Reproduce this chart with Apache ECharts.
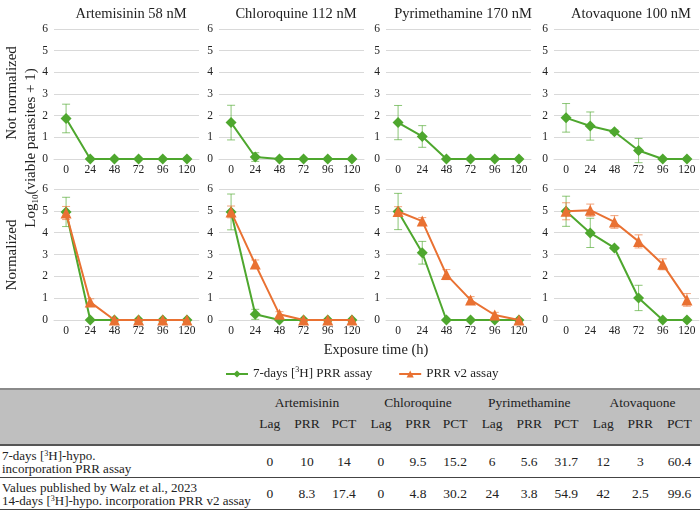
<!DOCTYPE html>
<html>
<head>
<meta charset="utf-8">
<script src="https://cdn.jsdelivr.net/npm/echarts@6/dist/echarts.min.js"></script>
<style>
  body { margin: 0; background: #fff; }
  #chart { position: absolute; left: 0; top: 0; width: 700px; height: 386px; }
  #tbl { position: absolute; left: 0; top: 388px; width: 700px; border-collapse: collapse; table-layout: fixed;
         font-family: 'Liberation Serif', serif; font-size: 13.5px; color: #222; }
  #tbl thead th { background: #bfbfbf; font-weight: normal; padding: 0; text-align: center; }
  #tbl thead tr.r1 th { border-top: 2px solid #8a8a8a; height: 26px; line-height: 16px; vertical-align: middle; }
  #tbl thead tr.r2 th { height: 28px; line-height: 16px; vertical-align: top; border-bottom: 2px solid #555; }
  #tbl tbody td { text-align: center; padding: 0; border-bottom: 1px solid #444; }
  #tbl tbody td.lab { text-align: left; padding-left: 2px; font-size: 13px; line-height: 13px; }
  #tbl tbody tr.b1 td { height: 31px; }
  #tbl tbody tr.b2 td { height: 31px; }
  sup { font-size: 8px; vertical-align: 4px; line-height: 0; }
</style>
</head>
<body>
<div id="chart"></div>
<table id="tbl"></table>
<script>
const times = ['0', '24', '48', '72', '96', '120'];
const panelTitles = ['Artemisinin 58 nM', 'Chloroquine 112 nM', 'Pyrimethamine 170 nM', 'Atovaquone 100 nM'];

// not normalized, 7-days [3H] PRR assay
const rawPrr = [
  [1.87, 0, 0, 0, 0, 0],
  [1.68, 0.09, 0, 0, 0, 0],
  [1.68, 1.04, 0, 0, 0, 0],
  [1.9, 1.52, 1.26, 0.39, 0, 0]
];
const rawPrrErr = [
  [0.66, 0, 0, 0, 0, 0],
  [0.8, 0.2, 0, 0, 0, 0],
  [0.79, 0.5, 0, 0, 0, 0],
  [0.66, 0.65, 0.08, 0.56, 0, 0]
];

// normalized
const normPrr = [
  [4.95, 0, 0, 0, 0, 0],
  [4.95, 0.26, 0, 0, 0, 0],
  [4.97, 3.08, 0, 0, 0, 0],
  [4.98, 3.99, 3.3, 1.01, 0, 0]
];
const normPrrErr = [
  [0.67, 0, 0, 0, 0, 0],
  [0.82, 0.23, 0, 0, 0, 0],
  [0.83, 0.52, 0, 0, 0, 0],
  [0.69, 0.67, 0.05, 0.58, 0, 0]
];
const normV2 = [
  [4.9, 0.82, 0, 0, 0, 0],
  [4.95, 2.56, 0.26, 0, 0, 0],
  [4.97, 4.53, 2.08, 0.92, 0.23, 0],
  [4.98, 5.03, 4.49, 3.6, 2.55, 0.92]
];
const normV2Err = [
  [0.3, 0.15, 0, 0, 0, 0],
  [0.27, 0.19, 0.12, 0, 0, 0],
  [0.22, 0.16, 0.23, 0.15, 0.12, 0],
  [0.39, 0.28, 0.29, 0.3, 0.25, 0.29]
];

const yTicks = [0, 1, 2, 3, 4, 5, 6];

// table
const tableDrugs = ['Artemisinin', 'Chloroquine', 'Pyrimethamine', 'Atovaquone'];
const tableCols = ['Lag', 'PRR', 'PCT'];
const row1Label = '7-days [<sup>3</sup>H]-hypo.<br>incorporation PRR assay';
const row1Vals = [0, 10, 14, 0, 9.5, 15.2, 6, 5.6, 31.7, 12, 3, 60.4];
const row2Label = 'Values published by Walz et al., 2023<br>14-days [<sup>3</sup>H]-hypo. incorporation PRR v2 assay';
const row2Vals = [0, 8.3, 17.4, 0, 4.8, 30.2, 24, 3.8, 54.9, 42, 2.5, 99.6];

const GREEN = '#4ea72e';
const ORANGE = '#e97132';
const FONT = 'Liberation Serif';
const lefts = [54, 219, 386, 554];

function errRender(color) {
  return function (params, api) {
    const x = api.value(0);
    const y = api.value(1);
    const e = api.value(2);
    const hi = api.coord([x, y + e]);
    const lo = api.coord([x, y - e]);
    const cw = 4;
    const st = { stroke: color, lineWidth: 1, opacity: 0.65 };
    return {
      type: 'group',
      children: [
        { type: 'line', shape: { x1: hi[0], y1: hi[1], x2: lo[0], y2: lo[1] }, style: st },
        { type: 'line', shape: { x1: hi[0] - cw, y1: hi[1], x2: hi[0] + cw, y2: hi[1] }, style: st },
        { type: 'line', shape: { x1: lo[0] - cw, y1: lo[1], x2: lo[0] + cw, y2: lo[1] }, style: st }
      ]
    };
  };
}

function errData(vals, errs) {
  const out = [];
  vals.forEach((v, i) => { if (errs[i] > 0) out.push([i, v, errs[i]]); });
  return out;
}

const grids = [], xAxes = [], yAxes = [], series = [], titles = [];
for (let row = 0; row < 2; row++) {
  for (let p = 0; p < 4; p++) {
    const gi = row * 4 + p;
    grids.push({ left: lefts[p], width: 145, top: row === 0 ? 29 : 189, height: row === 0 ? 130 : 131 });
    xAxes.push({
      type: 'category', gridIndex: gi, data: times, boundaryGap: true,
      axisTick: { show: false },
      axisLine: { show: true, lineStyle: { color: '#d9d9d9' } },
      axisLabel: { color: '#222', fontFamily: FONT, fontSize: 11.5, margin: 5 }
    });
    yAxes.push({
      type: 'value', gridIndex: gi, min: yTicks[0], max: yTicks[yTicks.length - 1], interval: 1,
      axisLine: { show: false }, axisTick: { show: false },
      splitLine: { lineStyle: { color: '#d9d9d9' } },
      axisLabel: { color: '#222', fontFamily: FONT, fontSize: 11.5, margin: 6 }
    });
    const g = row === 0 ? rawPrr[p] : normPrr[p];
    const ge = row === 0 ? rawPrrErr[p] : normPrrErr[p];
    series.push({
      type: 'custom', xAxisIndex: gi, yAxisIndex: gi, z: 2, silent: true,
      renderItem: errRender(GREEN), data: errData(g, ge)
    });
    series.push({
      name: '7-days [3H] PRR assay', type: 'line', xAxisIndex: gi, yAxisIndex: gi, z: 3,
      data: g, symbol: 'diamond', symbolSize: 11, color: GREEN,
      lineStyle: { width: 2 }, itemStyle: { color: GREEN }
    });
    if (row === 1) {
      series.push({
        type: 'custom', xAxisIndex: gi, yAxisIndex: gi, z: 4, silent: true,
        renderItem: errRender(ORANGE), data: errData(normV2[p], normV2Err[p])
      });
      series.push({
        name: 'PRR v2 assay', type: 'line', xAxisIndex: gi, yAxisIndex: gi, z: 5,
        data: normV2[p], symbol: 'triangle', symbolSize: 11, color: ORANGE,
        lineStyle: { width: 2 }, itemStyle: { color: ORANGE }
      });
    }
  }
}
panelTitles.forEach((t, p) => {
  titles.push({
    text: t, left: lefts[p] + 72, top: 2, textAlign: 'center',
    textStyle: { fontFamily: FONT, fontSize: 14.5, fontWeight: 'normal', color: '#222' }
  });
});

const option = {
  animation: false,
  title: titles,
  grid: grids,
  xAxis: xAxes,
  yAxis: yAxes,
  series: series,
  legend: {
    data: ['7-days [3H] PRR assay', 'PRR v2 assay'],
    left: 220, top: 361, itemWidth: 22, itemHeight: 9, itemGap: 26,
    formatter: function (name) {
      return name === '7-days [3H] PRR assay' ? '7-days [{sup|3}H] PRR assay' : name;
    },
    textStyle: {
      fontFamily: FONT, fontSize: 13, color: '#222',
      rich: { sup: { fontFamily: FONT, fontSize: 8, color: '#222', verticalAlign: 'top', lineHeight: 16 } }
    }
  },
  graphic: [
    { type: 'text', x: 12, y: 93, rotation: Math.PI / 2,
      style: { text: 'Not normalized', align: 'center', verticalAlign: 'middle', fontFamily: FONT, fontSize: 15, fill: '#222' } },
    { type: 'text', x: 12, y: 255, rotation: Math.PI / 2,
      style: { text: 'Normalized', align: 'center', verticalAlign: 'middle', fontFamily: FONT, fontSize: 15, fill: '#222' } },
    { type: 'text', x: 31, y: 148, rotation: Math.PI / 2,
      style: { text: 'Log{sub|10}(viable parasites + 1)', align: 'center', verticalAlign: 'middle', fontFamily: FONT, fontSize: 15, fill: '#222',
        rich: { sub: { fontFamily: FONT, fontSize: 9, fill: '#222', verticalAlign: 'bottom', lineHeight: 18 } } } },
    { type: 'text', x: 376, y: 350,
      style: { text: 'Exposure time (h)', align: 'center', verticalAlign: 'middle', fontFamily: FONT, fontSize: 14.5, fill: '#222' } }
  ]
};

const chart = echarts.init(document.getElementById('chart'));
chart.setOption(option);

// table below the charts
let html = '<colgroup><col style="width:251px">';
for (let i = 0; i < 12; i++) html += '<col style="width:' + (i === 11 ? 41 : 37) + 'px">';
html += '</colgroup><thead><tr class="r1"><th></th>';
tableDrugs.forEach(d => { html += '<th colspan="3">' + d + '</th>'; });
html += '</tr><tr class="r2"><th></th>';
tableDrugs.forEach(() => tableCols.forEach(c => { html += '<th>' + c + '</th>'; }));
html += '</tr></thead><tbody><tr class="b1"><td class="lab">' + row1Label + '</td>';
row1Vals.forEach(v => { html += '<td>' + v + '</td>'; });
html += '</tr><tr class="b2"><td class="lab">' + row2Label + '</td>';
row2Vals.forEach(v => { html += '<td>' + v + '</td>'; });
html += '</tr></tbody>';
document.getElementById('tbl').innerHTML = html;
</script>
</body>
</html>
